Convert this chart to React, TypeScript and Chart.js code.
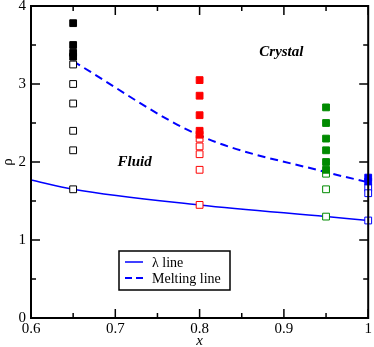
import React, { useEffect, useRef } from "react";
import { Chart, registerables } from "chart.js";

Chart.register(...registerables);

// Axis ticks
const xTicks = [0.6, 0.7, 0.8, 0.9, 1.0];
const xTickLabels = ["0.6", "0.7", "0.8", "0.9", "1"];
const xMinorTicks = [0.65, 0.75, 0.85, 0.95];
const yTicks = [0, 1, 2, 3, 4];
const yTickLabels = ["0", "1", "2", "3", "4"];
const yMinorTicks = [0.5, 1.5, 2.5, 3.5];

// Lines
const lambdaX = [0.6, 0.65, 0.8, 0.95, 1.0];
const lambdaRho = [1.77, 1.65, 1.45, 1.3, 1.25];
const meltX = [0.65, 0.8, 0.95, 1.0];
const meltRho = [3.29, 2.34, 1.87, 1.74];

// Simulation points (x value per column)
const xBlack = 0.65;
const blackSolid = [3.78, 3.5, 3.4, 3.35];
const blackFluid = [3.25, 3.0, 2.75, 2.4, 2.15, 1.65];
const xRed = 0.8;
const redSolid = [3.05, 2.85, 2.6, 2.4, 2.35];
const redFluid = [2.3, 2.2, 2.1, 1.9, 1.45];
const xGreen = 0.95;
const greenSolid = [2.7, 2.5, 2.3, 2.15, 2.0, 1.9];
const greenFluid = [1.85, 1.65, 1.3];
const xBlue = 1.0;
const blueSolid = [1.8, 1.75];
const blueFluid = [1.67, 1.6, 1.25];

// Labels
const legendLabels = ["\u03bb line", "Melting line"];
const regionLabels = [
  { text: "Crystal", x: 0.897, y: 3.41 },
  { text: "Fluid", x: 0.723, y: 2.0 },
];

const BLUE = "#0000ff";
const SERIF = "'Liberation Serif', 'DejaVu Serif', serif";

function pts(x: number, ys: number[]) {
  return ys.map((y) => ({ x, y }));
}

function markerSet(x: number, ys: number[], color: string, filled: boolean) {
  return {
    type: "scatter" as const,
    label: "",
    data: pts(x, ys),
    showLine: false,
    pointStyle: "rect" as const,
    pointRadius: 4.8,
    pointBorderWidth: 1,
    pointBorderColor: color,
    pointBackgroundColor: filled ? color : "#ffffff",
    order: 1,
  };
}

const framePlugin = {
  id: "frame",
  afterDraw(chart: any) {
    const ctx = chart.ctx;
    const { left, right, top, bottom } = chart.chartArea;
    const xs = chart.scales.x;
    const ys = chart.scales.y;
    ctx.save();
    ctx.strokeStyle = "#000";
    ctx.lineWidth = 2;
    ctx.strokeRect(left, top, right - left, bottom - top);
    ctx.lineWidth = 1.5;
    const major = 9;
    const minor = 5;
    const tick = (x1: number, y1: number, x2: number, y2: number) => {
      ctx.beginPath();
      ctx.moveTo(x1, y1);
      ctx.lineTo(x2, y2);
      ctx.stroke();
    };
    xTicks.forEach((v) => {
      const p = xs.getPixelForValue(v);
      tick(p, bottom, p, bottom - major);
      tick(p, top, p, top + major);
    });
    xMinorTicks.forEach((v) => {
      const p = xs.getPixelForValue(v);
      tick(p, bottom, p, bottom - minor);
      tick(p, top, p, top + minor);
    });
    yTicks.forEach((v) => {
      const p = ys.getPixelForValue(v);
      tick(left, p, left + major, p);
      tick(right, p, right - major, p);
    });
    yMinorTicks.forEach((v) => {
      const p = ys.getPixelForValue(v);
      tick(left, p, left + minor, p);
      tick(right, p, right - minor, p);
    });

    // region labels
    ctx.fillStyle = "#000";
    ctx.font = `italic bold 15px ${SERIF}`;
    ctx.textAlign = "center";
    ctx.textBaseline = "middle";
    regionLabels.forEach((r) => {
      ctx.fillText(r.text, xs.getPixelForValue(r.x), ys.getPixelForValue(r.y));
    });

    // legend box
    const bx = left + 88;
    const by = bottom - 67;
    const bw = 111;
    const bh = 39;
    ctx.fillStyle = "#fff";
    ctx.fillRect(bx, by, bw, bh);
    ctx.lineWidth = 1.5;
    ctx.strokeStyle = "#000";
    ctx.strokeRect(bx, by, bw, bh);
    ctx.font = `14px ${SERIF}`;
    ctx.textAlign = "left";
    ctx.fillStyle = "#000";
    const rows = [by + 11, by + 27];
    ctx.strokeStyle = BLUE;
    ctx.lineWidth = 1.5;
    ctx.setLineDash([]);
    tick(bx + 6, rows[0], bx + 24, rows[0]);
    ctx.lineWidth = 2;
    ctx.setLineDash([7, 4]);
    tick(bx + 6, rows[1], bx + 26, rows[1]);
    ctx.setLineDash([]);
    ctx.fillText(legendLabels[0], bx + 33, rows[0] + 1);
    ctx.fillText(legendLabels[1], bx + 33, rows[1] + 1);
    ctx.restore();
  },
};

export default function App() {
  const ref = useRef<HTMLCanvasElement | null>(null);
  useEffect(() => {
    if (!ref.current) return;
    const chart = new Chart(ref.current, {
      type: "scatter",
      data: {
        datasets: [
          {
            type: "line",
            label: legendLabels[0],
            data: lambdaX.map((x, i) => ({ x, y: lambdaRho[i] })),
            borderColor: BLUE,
            borderWidth: 1.5,
            pointRadius: 0,
            fill: false,
            cubicInterpolationMode: "monotone",
            order: 2,
          } as any,
          {
            type: "line",
            label: legendLabels[1],
            data: meltX.map((x, i) => ({ x, y: meltRho[i] })),
            borderColor: BLUE,
            borderWidth: 2,
            borderDash: [8, 5],
            pointRadius: 0,
            fill: false,
            cubicInterpolationMode: "monotone",
            order: 2,
          } as any,
          markerSet(xBlack, blackSolid, "#000000", true),
          markerSet(xBlack, blackFluid, "#000000", false),
          markerSet(xRed, redSolid, "#ff0000", true),
          markerSet(xRed, redFluid, "#ff0000", false),
          markerSet(xGreen, greenSolid, "#008b00", true),
          markerSet(xGreen, greenFluid, "#008b00", false),
          markerSet(xBlue, blueSolid, BLUE, true),
          markerSet(xBlue, blueFluid, BLUE, false),
        ],
      },
      options: {
        responsive: false,
        animation: false,
        clip: false as any,
        layout: { padding: { top: 6, right: 3, left: 0, bottom: 0 } },
        plugins: { legend: { display: false }, tooltip: { enabled: false } },
        scales: {
          x: {
            type: "linear",
            min: 0.6,
            max: 1.0,
            grid: { display: false, drawTicks: false },
            border: { display: false },
            afterBuildTicks: (s: any) => {
              s.ticks = xTicks.map((v) => ({ value: v }));
            },
            afterFit: (s: any) => {
              s.height = 29;
              s.paddingLeft = 0;
              s.paddingRight = 0;
            },
            ticks: {
              padding: 2,
              color: "#000",
              font: { family: SERIF, size: 15 },
              callback: (_v: any, i: number) => xTickLabels[i],
            },
            title: {
              display: true,
              text: "x",
              color: "#000",
              font: { family: SERIF, size: 15, style: "italic" },
              padding: { top: 0, bottom: -3 },
            },
          },
          y: {
            type: "linear",
            min: 0,
            max: 4,
            grid: { display: false, drawTicks: false },
            border: { display: false },
            afterBuildTicks: (s: any) => {
              s.ticks = yTicks.map((v) => ({ value: v }));
            },
            afterFit: (s: any) => {
              s.width = 31;
              s.paddingTop = 0;
              s.paddingBottom = 0;
            },
            ticks: {
              padding: 5,
              color: "#000",
              font: { family: SERIF, size: 15 },
              callback: (_v: any, i: number) => yTickLabels[i],
            },
            title: {
              display: true,
              text: "\u03c1",
              color: "#000",
              font: { family: SERIF, size: 15 },
              padding: { top: -1, bottom: 0 },
            },
          },
        },
      },
      plugins: [framePlugin],
    });
    return () => chart.destroy();
  }, []);
  return (
    <div style={{ position: "absolute", left: 0, top: 0, width: 374, height: 347, background: "#fff" }}>
      <canvas ref={ref} width={374} height={347} style={{ width: 374, height: 347 }} />
    </div>
  );
}
